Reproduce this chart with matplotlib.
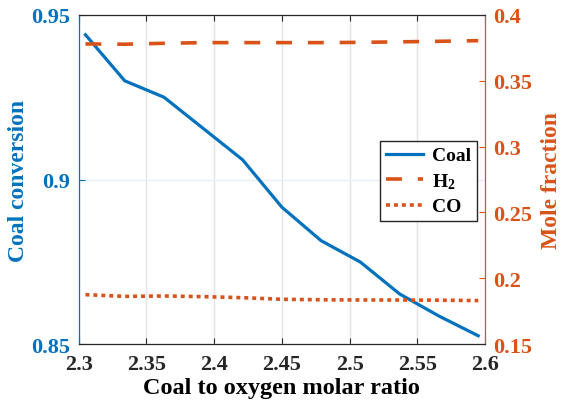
## Coal conversion and syngas mole fractions vs coal to oxygen ratio
import numpy as np
import matplotlib.pyplot as plt

## Data
ratio = [2.305, 2.334, 2.363, 2.392, 2.421, 2.450, 2.479, 2.508, 2.537, 2.566, 2.595]
coalConv = [0.944, 0.930, 0.925, 0.9155, 0.906, 0.8916, 0.8814, 0.8749, 0.8652, 0.8585, 0.8525]
h2Frac = [0.378, 0.3778, 0.3785, 0.379, 0.379, 0.379, 0.379, 0.3792, 0.3796, 0.380, 0.3805]
coFrac = [0.1875, 0.1862, 0.1865, 0.1860, 0.1852, 0.1840, 0.1836, 0.1835, 0.1834, 0.1833, 0.1830]

blue = '#0072BD'
orange = '#D95319'

plt.rcParams['font.family'] = ['Liberation Serif', 'DejaVu Serif']
plt.rcParams['font.weight'] = 'bold'
plt.rcParams['mathtext.fontset'] = 'custom'
plt.rcParams['mathtext.rm'] = 'Liberation Serif:bold'
plt.rcParams['mathtext.it'] = 'Liberation Serif:bold'

fig, ax = plt.subplots(figsize=(5.62, 4.1), dpi=100)
fig.subplots_adjust(left=0.14, right=0.863, top=0.961, bottom=0.1585)
ax2 = ax.twinx()

## Left axis: coal conversion
lCoal, = ax.plot(ratio, coalConv, color=blue, lw=2.3, label='Coal')
ax.set_xlim(2.3, 2.6)
ax.set_ylim(0.85, 0.95)
ax.set_xticks([2.3, 2.35, 2.4, 2.45, 2.5, 2.55, 2.6])
ax.set_xticklabels(['2.3', '2.35', '2.4', '2.45', '2.5', '2.55', '2.6'])
ax.set_yticks([0.85, 0.9, 0.95])
ax.set_yticklabels(['0.85', '0.9', '0.95'])
ax.set_xlabel('Coal to oxygen molar ratio', fontsize=17.5, fontweight='bold', labelpad=2)
ax.set_ylabel('Coal conversion', fontsize=17, fontweight='bold', color=blue, labelpad=2)
ax.tick_params(axis='x', direction='in', labelsize=16, colors='#262626', length=4, top=True, pad=7)
ax.tick_params(axis='y', direction='in', labelsize=16, colors=blue, length=4, pad=6)
ax.xaxis.grid(True, color='#e3e3e3', lw=1)
ax.yaxis.grid(True, color='#e6eff8', lw=1)
ax.set_axisbelow(True)

## Right axis: mole fractions
lH2, = ax2.plot(ratio, h2Frac, color=orange, lw=2.6, ls=(0, (4.4, 4.4)), label='H$_2$')
lCO, = ax2.plot(ratio, coFrac, color=orange, lw=2.6, ls=(0, (1.1, 1.1)), label='CO')
ax2.set_ylim(0.15, 0.4)
ax2.set_yticks([0.15, 0.2, 0.25, 0.3, 0.35, 0.4])
ax2.set_yticklabels(['0.15', '0.2', '0.25', '0.3', '0.35', '0.4'])
ax2.set_ylabel('Mole fraction', fontsize=17, fontweight='bold', color=orange, labelpad=6)
ax2.tick_params(axis='y', direction='in', labelsize=16, colors=orange, length=4, pad=6)

# Spine colours like MATLAB yyaxis
ax2.spines['left'].set_color(blue)
ax2.spines['right'].set_color(orange)
ax2.spines['top'].set_color('#262626')
ax2.spines['bottom'].set_color('#262626')
ax.spines['left'].set_color(blue)
ax.spines['right'].set_color(orange)

leg = ax2.legend(handles=[lCoal, lH2, lCO], loc='upper right',
                 bbox_to_anchor=(0.98, 0.617), borderaxespad=0,
                 fontsize=14, fancybox=False, edgecolor='#262626',
                 framealpha=1, handlelength=1.9, handletextpad=0.45,
                 borderpad=0.3, labelspacing=0.35)
leg.get_frame().set_linewidth(1)

fig.savefig('out.png', dpi=100)
